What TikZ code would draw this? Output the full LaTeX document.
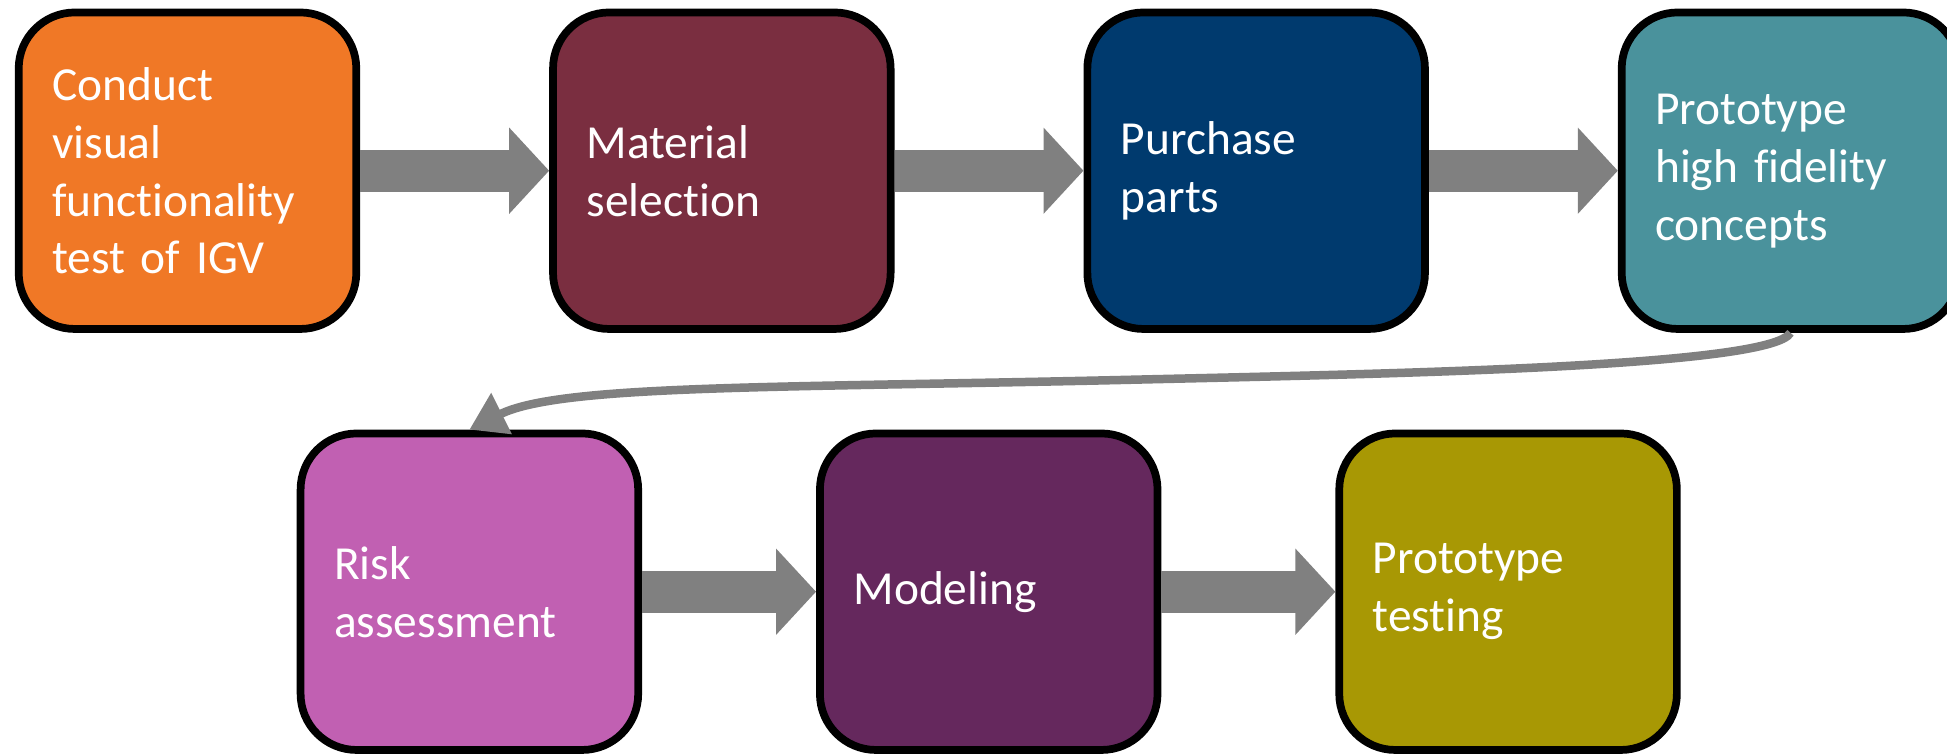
\documentclass[tikz,border=0pt]{standalone}
\usepackage{fontspec}
\setmainfont{Carlito}[Ligatures=NoCommon, WordSpace=0.8]
\usetikzlibrary{arrows.meta,positioning}
\definecolor{stageOrange}{RGB}{240,120,38}
\definecolor{stageMaroon}{RGB}{122,46,64}
\definecolor{stageNavy}{RGB}{0,58,110}
\definecolor{stageTeal}{RGB}{74,146,156}
\definecolor{stagePink}{RGB}{193,96,178}
\definecolor{stagePurple}{RGB}{101,40,93}
\definecolor{stageOlive}{RGB}{168,152,4}
\definecolor{flowGray}{RGB}{128,128,128}

\begin{document}
\begin{tikzpicture}[line join=round,
    stagebox/.style={draw=black, line width=2.2pt, rounded corners=0.56cm,
      minimum width=3.376cm, minimum height=3.165cm, text width=2.706cm,
      inner xsep=0.335cm, align=left, text=white,
      font=\fontsize{13.5}{16.5}\selectfont},
    blockarrow/.style={draw=flowGray, line width=0.42cm,
      -{Triangle[length=0.40cm,width=0.84cm]}},
    bendarrow/.style={draw=flowGray, line width=0.085cm,
      -{Triangle[length=0.36cm,width=0.44cm]}}]
    \useasboundingbox (0,0) rectangle (19.47,-7.55);
    % first row
    \node[stagebox, fill=stageOrange] (b1) at (1.875,-1.707) {Conduct\\visual\\functionality\\test of IGV};
    \node[stagebox, fill=stageMaroon, right=1.89cm of b1] (b2) {Material\\selection};
    \node[stagebox, fill=stageNavy, right=1.89cm of b2] (b3) {Purchase\\parts};
    \node[stagebox, fill=stageTeal, right=1.89cm of b3] (b4) {Prototype\\high fidelity\\concepts};
    % second row
    \node[stagebox, fill=stagePink] (b5) at (4.694,-5.917) {Risk\\assessment};
    \node[stagebox, fill=stagePurple, right=1.74cm of b5] (b6) {Modeling};
    \node[stagebox, fill=stageOlive, right=1.74cm of b6] (b7) {Prototype\\testing};
    \draw[blockarrow] (b1.east) -- (b2.west);
    \draw[blockarrow] (b2.east) -- (b3.west);
    \draw[blockarrow] (b3.east) -- (b4.west);
    \draw[bendarrow] (b4.south) .. controls +(-0.2,-0.35) and +(2.5,0.06) .. (11.2,-3.80)
        .. controls +(-3.5,-0.08) and +(0.9,0.45) .. (b5.north);
    \draw[blockarrow] (b5.east) -- (b6.west);
    \draw[blockarrow] (b6.east) -- (b7.west);
\end{tikzpicture}
\end{document}
